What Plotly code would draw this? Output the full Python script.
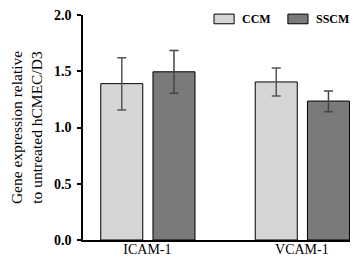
import plotly.graph_objects as go

categories = ["ICAM-1", "VCAM-1"]
series_names = ["CCM", "SSCM"]
ccm = [1.39, 1.405]
ccm_err_plus = [0.23, 0.125]
ccm_err_minus = [0.235, 0.125]
sscm = [1.495, 1.235]
sscm_err_plus = [0.19, 0.09]
sscm_err_minus = [0.19, 0.095]
x_idx = [0, 1]
colors = ["#d6d6d6", "#7a7a7a"]

FONT = "Liberation Serif"

fig = go.Figure()
fig.add_trace(go.Bar(
    x=x_idx, y=ccm, name=series_names[0], width=0.272, offset=-0.302,
    marker=dict(color=colors[0], line=dict(color="#000000", width=1)),
    error_y=dict(type="data", symmetric=False, array=ccm_err_plus, arrayminus=ccm_err_minus,
                 color="#555555", thickness=1.5, width=4.5),
))
fig.add_trace(go.Bar(
    x=x_idx, y=sscm, name=series_names[1], width=0.272, offset=0.036,
    marker=dict(color=colors[1], line=dict(color="#000000", width=1)),
    error_y=dict(type="data", symmetric=False, array=sscm_err_plus, arrayminus=sscm_err_minus,
                 color="#444444", thickness=1.5, width=4.5),
))

# manual legend
leg_x = [0.463, 0.724]
for i, name in enumerate(series_names):
    fig.add_shape(type="rect", xref="paper", yref="paper",
                  x0=leg_x[i], x1=leg_x[i] + 0.071, y0=0.961, y1=1.004,
                  fillcolor=colors[i], line=dict(color="#000", width=1))
    fig.add_annotation(xref="paper", yref="paper", x=leg_x[i] + 0.092, y=0.982,
                       xanchor="left", yanchor="middle", showarrow=False,
                       text="<b>%s</b>" % name,
                       font=dict(family=FONT, size=12, color="#000"))

fig.update_layout(
    width=358, height=257,
    margin=dict(l=75, r=0, t=4, b=25),
    plot_bgcolor="white", paper_bgcolor="white",
    font=dict(family=FONT, color="#000000"),
    showlegend=False,
    xaxis=dict(
        range=[-0.417, 1.415], tickmode="array", tickvals=x_idx, ticktext=categories,
        showline=True, linecolor="#000", linewidth=1.5, ticks="", showgrid=False,
        zeroline=False, tickfont=dict(family=FONT, size=14, color="#000"),
        ticklabelstandoff=-5,
    ),
    yaxis=dict(
        range=[0, 2.0], tickvals=[0, 0.5, 1.0, 1.5, 2.0],
        ticktext=["<b>0.0</b>", "<b>0.5</b>", "<b>1.0</b>", "<b>1.5</b>", "<b>2.0</b>"],
        showline=True, linecolor="#000", linewidth=1.5, ticks="outside", ticklen=4,
        tickwidth=1.5, tickcolor="#000", showgrid=False, zeroline=False,
        tickfont=dict(family=FONT, size=14, color="#000"), ticklabelstandoff=3,
        ticklabeloverflow="allow",
        title=dict(text="Gene expression relative<br>to untreated hCMEC/D3",
                   font=dict(family=FONT, size=15.5, color="#000"), standoff=15),
    ),
)

fig.write_html("out.html")
